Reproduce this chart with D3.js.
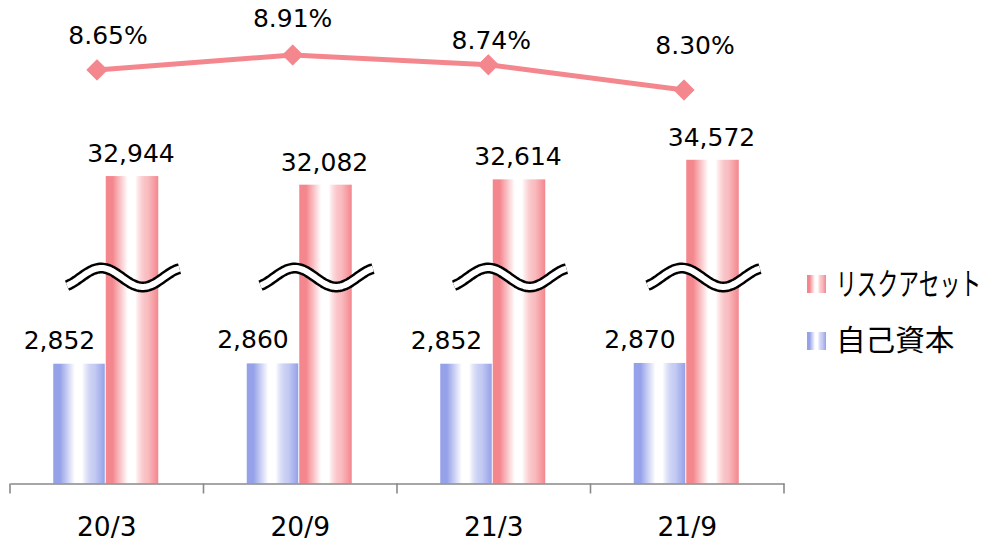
<!DOCTYPE html>
<html>
<head>
<meta charset="utf-8">
<script src="https://cdn.jsdelivr.net/npm/d3@7"></script>
<style>
  html, body { margin: 0; padding: 0; background: #fff; }
  svg { display: block; }
  .num { font-family: "DejaVu Sans", Verdana, sans-serif; fill: #000; }
  .jp { font-family: "Noto Sans CJK JP", sans-serif; fill: #000; }
</style>
</head>
<body>
<svg id="chart" width="990" height="542"></svg>
<script>
// ---------- data ----------
const categories = ["20/3", "20/9", "21/3", "21/9"];
const riskAssets = [32944, 32082, 32614, 34572];   // リスクアセット
const equity     = [2852, 2860, 2852, 2870];       // 自己資本
const ratio      = [8.65, 8.91, 8.74, 8.30];       // %
const seriesNames = ["リスクアセット", "自己資本"];

// ---------- layout ----------
const W = 990, H = 542;
const axisY = 483.5;
const fontSize = 25;
const redColor = "#F4868D";
const blueColor = "#95A1E9";
const lineColor = "#F4878E";
// manual label nudges for ratio labels (dx, dy from marker)
const ratioLabelNudge = [[11, -35], [0, -37], [3, -25], [11, -45]];

const svg = d3.select("#chart");
const defs = svg.append("defs");

function makeGrad(id, color) {
  const g = defs.append("linearGradient").attr("id", id)
    .attr("x1", "0%").attr("x2", "100%").attr("y1", "0%").attr("y2", "0%");
  [[0, color, 1], [0.13, color, 1], [0.42, "#ffffff", 1], [0.56, "#ffffff", 1], [0.8, color, 0.55], [1, color, 1]]
    .forEach(([o, c, op]) => g.append("stop").attr("offset", o).attr("stop-color", c).attr("stop-opacity", op));
}
makeGrad("gRed", redColor);
makeGrad("gBlue", blueColor);

// scales
const x = d3.scaleBand().domain(categories).range([10, 784]);
const groupW = 105;
const x1 = d3.scaleBand().domain(["equity", "risk"]).range([0, groupW]);
const groupX = c => x(c) + (x.bandwidth() - groupW) / 2 - 1;

// broken value axis (piecewise linear)
const y = d3.scaleLinear()
  .domain([0, 3000, 30000, 36000])
  .range([axisY, axisY - 126, axisY - 278, axisY - 338]);

const xLine = d3.scalePoint().domain(categories).range([97, 684]);
const yPct = d3.scaleLinear().domain([8.30, 8.91]).range([90, 55]);

// ---------- bars ----------
const barData = categories.map((c, i) => ({ c, eq: equity[i], risk: riskAssets[i] }));

const g = svg.append("g");
g.selectAll("rect.eq").data(barData).enter().append("rect")
  .attr("class", "eq")
  .attr("x", d => groupX(d.c) + x1("equity"))
  .attr("width", x1.bandwidth() - 1)
  .attr("y", d => y(d.eq))
  .attr("height", d => axisY - y(d.eq))
  .attr("fill", "url(#gBlue)");

g.selectAll("rect.risk").data(barData).enter().append("rect")
  .attr("class", "risk")
  .attr("x", d => groupX(d.c) + x1("risk"))
  .attr("width", x1.bandwidth())
  .attr("y", d => y(d.risk))
  .attr("height", d => axisY - y(d.risk))
  .attr("fill", "url(#gRed)");

// ---------- break marks ----------
const breakY = 277.5;
const waveAmp = 9.5, wavePeriod = 83;
function wavePath(cx) {
  const pts = [];
  for (let t = -56.75; t <= 56.75 + 0.01; t += 1.5) {
    const ph = 2 * Math.PI * (t + 22.5) / wavePeriod;
    pts.push([cx + t, breakY - waveAmp * Math.cos(ph)]);
  }
  return d3.line().curve(d3.curveBasis)(pts);
}
const breaks = g.selectAll("g.brk").data(categories).enter().append("g").attr("class", "brk");
breaks.append("path").attr("d", c => wavePath(x(c) + x.bandwidth() / 2 + 17))
  .attr("fill", "none").attr("stroke", "#000").attr("stroke-width", 11);
breaks.append("path").attr("d", c => wavePath(x(c) + x.bandwidth() / 2 + 17))
  .attr("fill", "none").attr("stroke", "#fff").attr("stroke-width", 6);

// ---------- axis ----------
const axis = d3.axisBottom(x).tickSize(0).tickSizeOuter(0).tickPadding(34);
const axG = svg.append("g").attr("transform", `translate(0,${axisY})`).call(axis);
axG.select(".domain").attr("stroke", "#898989").attr("stroke-width", 1.6);
axG.selectAll(".tick text").attr("class", "num").attr("font-size", 26.5).attr("fill", "#000");
const bounds = categories.map(c => x(c)).concat([x.range()[1]]);
axG.selectAll("line.bt").data(bounds).enter().append("line").attr("class", "bt")
  .attr("x1", d => d).attr("x2", d => d).attr("y1", 0).attr("y2", 10)
  .attr("stroke", "#898989").attr("stroke-width", 1.6);

// ---------- bar labels ----------
g.selectAll("text.eqL").data(barData).enter().append("text")
  .attr("class", "num")
  .attr("font-size", fontSize)
  .attr("text-anchor", "middle")
  .attr("x", d => groupX(d.c) + x1("equity") + x1.bandwidth() / 2 - 20)
  .attr("y", d => y(d.eq) - 24)
  .attr("dy", "0.36em")
  .text(d => d3.format(",")(d.eq));

g.selectAll("text.riskL").data(barData).enter().append("text")
  .attr("class", "num")
  .attr("font-size", fontSize)
  .attr("text-anchor", "middle")
  .attr("x", d => groupX(d.c) + x1("risk") + x1.bandwidth() / 2 - 1)
  .attr("y", d => y(d.risk) - 23)
  .attr("dy", "0.36em")
  .text(d => d3.format(",")(d.risk));

// ---------- ratio line ----------
const lineData = categories.map((c, i) => ({ c, v: ratio[i], i }));
svg.append("path").datum(lineData)
  .attr("fill", "none").attr("stroke", lineColor).attr("stroke-width", 5)
  .attr("d", d3.line().x(d => xLine(d.c)).y(d => yPct(d.v)));
svg.selectAll("path.mk").data(lineData).enter().append("path")
  .attr("class", "mk")
  .attr("d", d3.symbol().type(d3.symbolSquare).size(200))
  .attr("transform", d => `translate(${xLine(d.c)},${yPct(d.v)}) rotate(45)`)
  .attr("fill", lineColor)
  .attr("stroke", lineColor).attr("stroke-width", 1).attr("stroke-linejoin", "round");
svg.selectAll("text.pct").data(lineData).enter().append("text")
  .attr("class", "num")
  .attr("font-size", fontSize)
  .attr("text-anchor", "middle")
  .attr("x", d => xLine(d.c) + ratioLabelNudge[d.i][0])
  .attr("y", d => yPct(d.v) + ratioLabelNudge[d.i][1])
  .attr("dy", "0.36em")
  .text(d => d3.format(".2f")(d.v) + "%");

// ---------- legend ----------
const legend = svg.append("g").attr("transform", "translate(807,0)");
const legItems = [
  { name: seriesNames[0], fill: "url(#gRed)", cy: 284, fs: 31, sx: 0.67 },
  { name: seriesNames[1], fill: "url(#gBlue)", cy: 341, fs: 29, sx: 1.02 }
];
const li = legend.selectAll("g").data(legItems).enter().append("g");
li.append("rect").attr("x", 0).attr("y", d => d.cy - 9).attr("width", 19).attr("height", 18)
  .attr("fill", d => d.fill);
li.append("text").attr("class", "jp")
  .attr("transform", d => `translate(29,${d.cy}) scale(${d.sx},1)`)
  .attr("dy", "0.36em")
  .attr("font-size", d => d.fs)
  .text(d => d.name);
</script>
</body>
</html>
